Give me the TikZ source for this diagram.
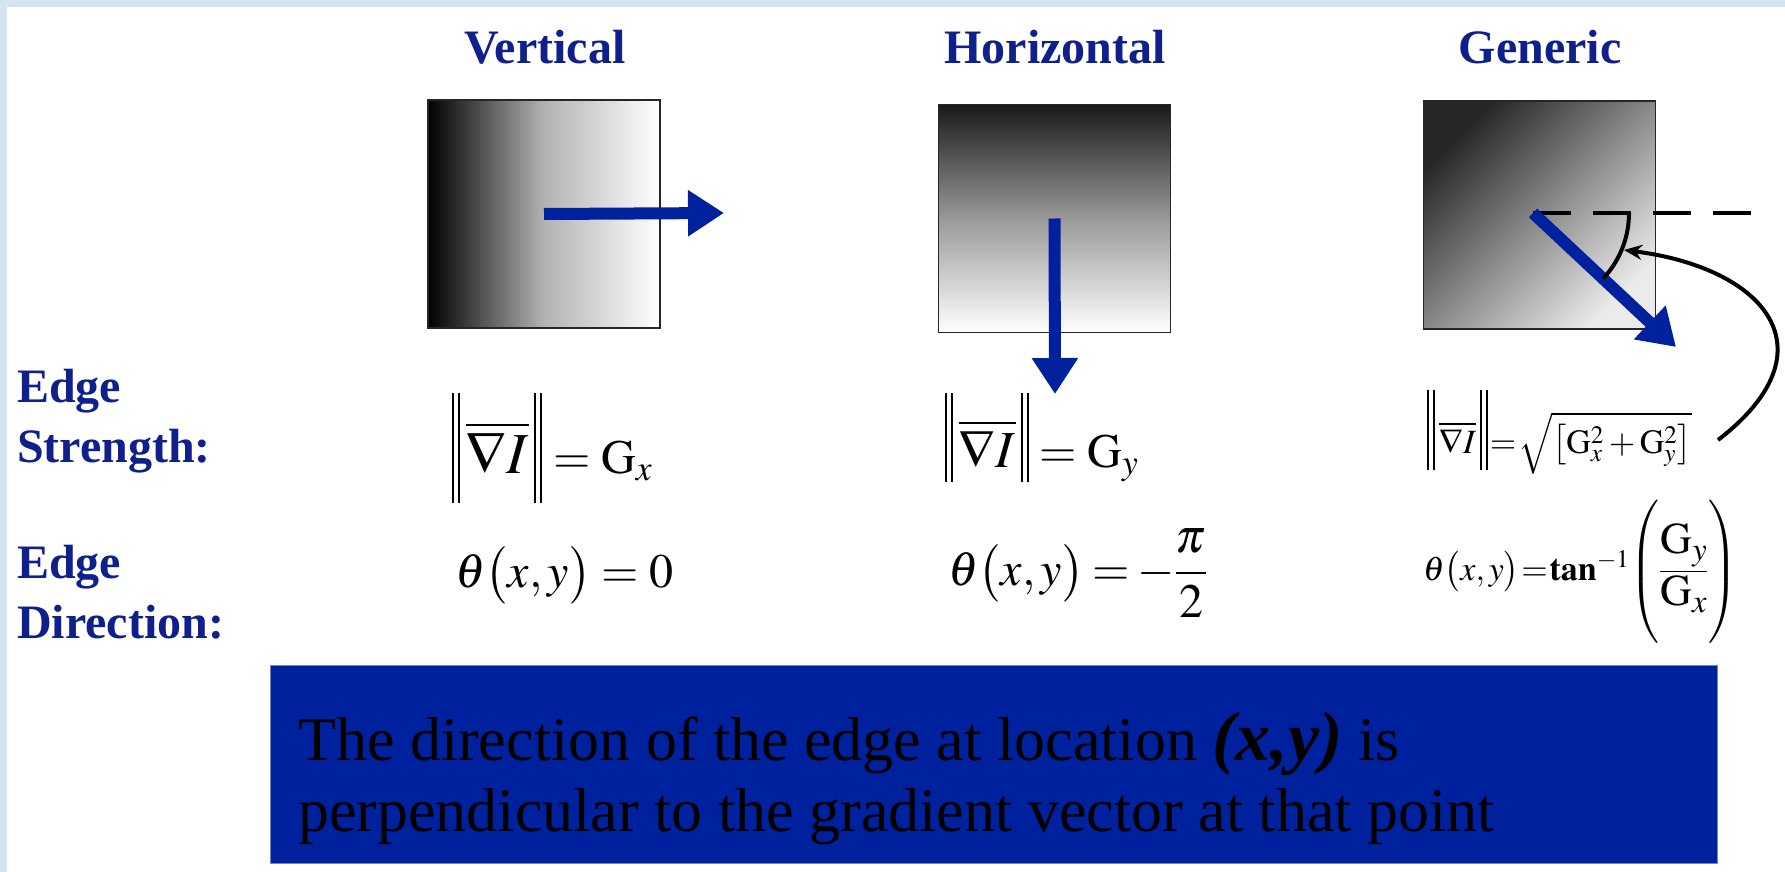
\documentclass[tikz,border=0pt]{standalone}
\usepackage{amsmath}
\usepackage{mathptmx}
\usepackage{fontspec}
\setmainfont{Liberation Serif}
\usepackage{tikz}
\usetikzlibrary{arrows.meta}
\definecolor{framebg}{rgb}{0.84, 0.89, 0.95}
\definecolor{navyblue}{rgb}{0.06, 0.12, 0.55}
\definecolor{gradblue}{rgb}{0.0, 0.13, 0.62}
\definecolor{notefill}{rgb}{0.0, 0.13, 0.62}
% double norm bars: raise, height
\newcommand{\normbars}[2]{\rule[#1]{2pt}{#2}\hspace{4pt}\rule[#1]{2pt}{#2}}

\tikzset{
    heading/.style={anchor=base, inner sep=0pt, text=navyblue, font=\fontsize{48}{56}\selectfont\bfseries},
    rowlabel/.style={anchor=base west, inner sep=0pt, align=left, text=navyblue, font=\fontsize{48}{60}\selectfont\bfseries},
    patch/.style={draw=black!85, line width=1.5pt, minimum width=232pt, minimum height=228pt, inner sep=0pt},
    formula/.style={anchor=base west, inner sep=0pt, font=\fontsize{48}{56}\selectfont},
    smallformula/.style={anchor=base west, inner sep=0pt, font=\fontsize{34}{40}\selectfont},
    gradarrow/.style={draw=gradblue, line width=12pt, -{Triangle[length=36pt,width=44pt]}},
    pointer/.style={draw=black, line width=4pt, -{Stealth[length=18pt,width=15pt]}},
    notebox/.style={fill=notefill, draw=notefill!55!white, line width=1pt, minimum width=1447pt, minimum height=198pt, inner sep=0pt},
}

\begin{document}
\begin{tikzpicture}[x=1pt, y=-1pt]
    \useasboundingbox (0,0) rectangle (1785,872);
    \fill[white] (0,0) rectangle (1785,872);
    \fill[framebg] (0,0) rectangle (1785,7);
    \fill[framebg] (0,0) rectangle (7,872);

    % Headings
    \node[heading] (hvert) at (545,64) {Vertical};
    \node[heading] (hhor) at (1055,64) {Horizontal};
    \node[heading] (hgen) at (1540,64) {Generic};

    % Vertical
    \node[patch, left color=black, right color=white, middle color=black!30] (vbox) at (544,214) {};
    \coordinate (vtip) at (724,213);
    \draw[gradarrow] (vbox.center) -- (vtip);

    % Horizontal
    \node[patch, top color=black!90, bottom color=white, middle color=black!40] (hbox) at (1054.5,218.5) {};
    \coordinate (htip) at (1055,394);
    \draw[gradarrow] (hbox.center) -- (htip);

    % Generic
    \node[patch, top color=black!85, bottom color=black!8, shading angle=45] (gbox) at (1539.5,215) {};
    \coordinate (gorigin) at (1533,213);
    \coordinate (dashend) at (1753,213);
    \coordinate (gtip) at (1676,347);
    \coordinate (anglept) at (1624,250);
    \coordinate (callout) at (1718,440);
    \draw[black, line width=4.5pt, dash pattern=on 38pt off 22pt] (gorigin) -- (dashend);
    \draw[gradarrow] (gorigin) -- (gtip);
    \draw[black, line width=4pt] ([xshift=96pt]gorigin) arc[start angle=0, end angle=-43, radius=96pt];
    \draw[pointer] (callout) .. controls (1835,350) and (1765,268) .. (anglept);

    % Row labels
    \node[rowlabel] (lstrength) at (17,462) {Edge\\Strength:};
    \node[rowlabel] (ldirection) at (17,638) {Edge\\Direction:};

    % Formulas
    \node[formula] (fvs) at (452,473) {$\normbars{-30pt}{110pt}\,\overline{\text{\fontsize{58}{64}\selectfont$\nabla I$}}\,\normbars{-30pt}{110pt}=\mathrm{G}_x$};
    \node[formula] (fvd) at (455,587) {$\theta\bigl(x,y\bigr)=0$};
    \node[formula] (fhs) at (945,467) {$\normbars{-15pt}{89pt}\,\overline{\text{\fontsize{52}{58}\selectfont$\nabla I$}}\,\normbars{-15pt}{89pt}=\mathrm{G}_y$};
    \node[formula] (fhd) at (948,585) {$\thickmuskip=3mu\theta\bigl(x,y\bigr)=-\dfrac{\pi}{2}$};
    \node[smallformula] (fgs) at (1427,453) {$\thickmuskip=1mu\normbars{-17pt}{80pt}\,\overline{\nabla I}\,\normbars{-17pt}{80pt}=\sqrt{\left[\mathrm{G}_x^2+\mathrm{G}_y^2\right]}$};
    \node[smallformula] (fgd) at (1423,580) {$\thickmuskip=1mu\theta\bigl(x,y\bigr)=\mathbf{tan}^{-1}\!\left(\rule[-1.7em]{0pt}{3.3em}\dfrac{\text{\fontsize{44}{50}\selectfont$\mathrm{G}_y$}}{\text{\fontsize{44}{50}\selectfont$\mathrm{G}_x$}}\right)$};

    % Note
    \node[notebox] (note) at (993.5,764) {};
    \node[anchor=base west, inner sep=0pt, align=left, font=\fontsize{62}{71}\selectfont] (notetext) at (298,831)
        {The direction of the edge at location {\fontsize{70}{71}\selectfont\bfseries\itshape (x,y)} is\\perpendicular to the gradient vector at that point};
\end{tikzpicture}
\end{document}
